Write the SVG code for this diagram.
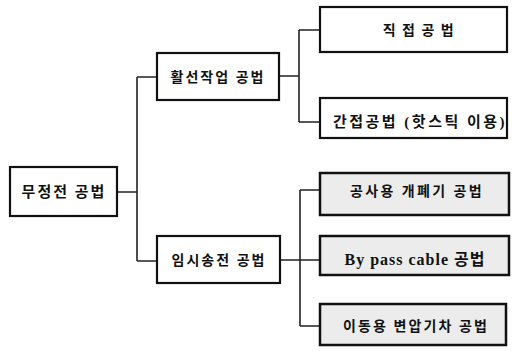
<svg xmlns="http://www.w3.org/2000/svg" width="514" height="351" viewBox="0 0 514 351">
<style>
.box{fill:#fff;stroke:#111;stroke-width:2.2}
.gbox{fill:#ececec;stroke:#111;stroke-width:2.5}
.t{font-family:"Liberation Serif","Noto Sans CJK KR",serif;font-weight:bold;font-size:14px;fill:#111;text-anchor:middle;dominant-baseline:central}
.c{fill:none;stroke:#222;stroke-width:1.6}
</style>
<rect width="514" height="351" fill="#fff"/>
<g id="connectors">
<path class="c" d="M117,192 H137 M137,77 V261 M137,77 H157 M137,261 H157"/>
<path class="c" d="M279,76 H299 M299,30 V122 M299,30 H320 M299,122 H320"/>
<path class="c" d="M280,260 H320 M300,190 V326 M300,190 H320 M300,326 H320"/>
</g>
<g id="root">
<rect class="box" x="10" y="167" width="107" height="49"/>
<text class="t" x="64" y="192" style="font-size:15px;letter-spacing:2px">무정전 공법</text>
</g>
<g id="n-hwalseon">
<rect class="box" x="157" y="53" width="122" height="47"/>
<text class="t" x="218" y="77" style="letter-spacing:2px">활선작업 공법</text>
</g>
<g id="n-imsi">
<rect class="box" x="157" y="236" width="123" height="47"/>
<text class="t" x="219" y="260" style="letter-spacing:2px">임시송전 공법</text>
</g>
<g id="n-jikjeop">
<rect class="box" x="320" y="7" width="187" height="45"/>
<text class="t" x="419" y="30" style="letter-spacing:1.5px">직 접 공 법</text>
</g>
<g id="n-ganjeop">
<rect class="box" x="320" y="98" width="187" height="40"/>
<text class="t" x="420" y="122" style="font-size:15px;letter-spacing:2.5px">간접공법 (핫스틱 이용)</text>
</g>
<g id="n-gongsayong">
<rect class="gbox" x="320" y="173" width="189" height="42"/>
<text class="t" x="417" y="191" style="letter-spacing:2.4px">공사용 개폐기 공법</text>
</g>
<g id="n-bypass">
<rect class="gbox" x="320" y="236" width="189" height="39"/>
<text class="t" x="415" y="259" style="font-size:16px;letter-spacing:1px">By pass cable 공법</text>
</g>
<g id="n-idongyong">
<rect class="gbox" x="320" y="304" width="186" height="41"/>
<text class="t" x="416" y="326" style="letter-spacing:2.1px">이동용 변압기차 공법</text>
</g>
</svg>
